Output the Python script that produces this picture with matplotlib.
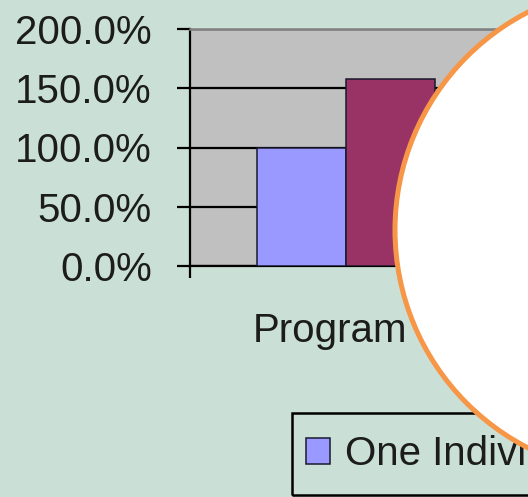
import matplotlib
matplotlib.use("Agg")
import matplotlib.pyplot as plt
from matplotlib.patches import Ellipse, Rectangle
from matplotlib.ticker import FuncFormatter

plt.rcParams['font.family'] = ['Liberation Sans', 'DejaVu Sans']

# ---- data ----
category_label = "Program"
series_names = ["One Individual", "Series 2"]
series_values = [1.00, 1.58]
series_colors = ["#9999FF", "#993366"]
y_ticks = [0.0, 0.5, 1.0, 1.5, 2.0]

W, H = 528, 497
fig = plt.figure(figsize=(W / 100, H / 100), dpi=100)
bg = "#CAE0D7"
fig.patch.set_facecolor(bg)


def px(x0, y0, x1, y1):
    return [x0 / W, 1 - y1 / H, (x1 - x0) / W, (y1 - y0) / H]


ax = fig.add_axes(px(190, 29, 590.5, 266))
ax.set_facecolor("#C0C0C0")
ax.set_xlim(0, 1)
ax.set_ylim(0, 2.0)

w = 1 / 4.5
handles = []
for i, (name, v, c) in enumerate(zip(series_names, series_values, series_colors)):
    b = ax.bar(0.5 + (i - 1) * w, v, width=w, color=c, edgecolor="#1a1a30",
               linewidth=1.1, label=name, zorder=3)
    handles.append(b)

ax.set_axisbelow(True)
ax.yaxis.grid(True, color="black", linewidth=1.6)
ax.set_yticks(y_ticks)
ax.yaxis.set_major_formatter(FuncFormatter(lambda v, p: f"{v * 100:.1f}%"))
ax.tick_params(axis="y", length=9.4, width=1.6, pad=18, labelsize=29,
               labelcolor="#1c1c1c")
ax.set_xticks([0, 1])
ax.set_xticklabels(["", ""])
ax.tick_params(axis="x", length=8.6, width=1.6)

ax.spines["top"].set_color("#808080")
ax.spines["top"].set_linewidth(1.8)
ax.spines["right"].set_visible(False)
for s in ("left", "bottom"):
    ax.spines[s].set_color("black")
    ax.spines[s].set_linewidth(1.6)

fig.text(253 / W, 1 - 342 / H, category_label, ha="left", va="baseline",
         fontsize=29, color="#1c1c1c")

# legend box (frame drawn separately for exact size)
frame = Rectangle((292 / W, 1 - 495 / H), (760 - 292) / W, (495 - 413) / H,
                  transform=fig.transFigure, facecolor="none", edgecolor="black",
                  linewidth=1.8, zorder=5)
fig.add_artist(frame)
leg = fig.legend(handles=handles[:1], labels=series_names[:1], loc="center left",
                 bbox_to_anchor=(306 / W, 1 - 454 / H), bbox_transform=fig.transFigure,
                 fontsize=29, frameon=False, handlelength=0.6, handleheight=0.6,
                 handletextpad=0.375, borderpad=0, borderaxespad=0)
leg.set_zorder(6)
for t in leg.get_texts():
    t.set_color("#1c1c1c")

circ = Ellipse((640 / W, 1 - 230 / H), width=2 * 245 / W, height=2 * 245 / H,
               transform=fig.transFigure, facecolor="white", edgecolor="#F79646",
               linewidth=3.6, zorder=20)
fig.add_artist(circ)

fig.savefig("out.png", dpi=100, facecolor=bg)
